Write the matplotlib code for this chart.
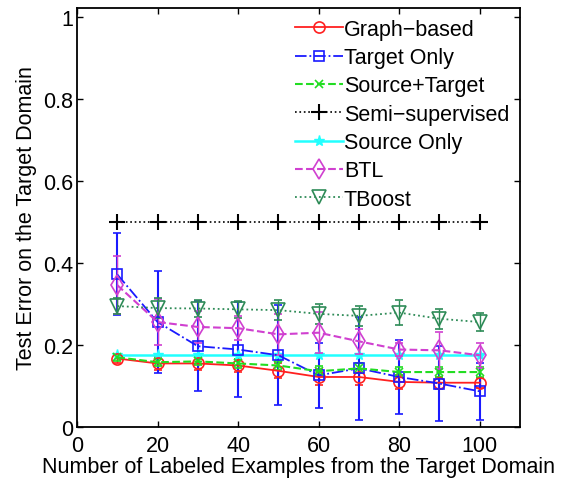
import matplotlib
matplotlib.use("Agg")
import matplotlib.pyplot as plt
from matplotlib.lines import Line2D
import numpy as np

x = [10, 20, 30, 40, 50, 60, 70, 80, 90, 100]

graph_based = [0.167, 0.155, 0.155, 0.150, 0.137, 0.122, 0.122, 0.110, 0.108, 0.108]
graph_err = [0.012, 0.015, 0.015, 0.015, 0.018, 0.02, 0.02, 0.018, 0.015, 0.012]

target_only = [0.372, 0.256, 0.197, 0.189, 0.175, 0.126, 0.143, 0.122, 0.106, 0.087]
target_err = [0.100, 0.124, 0.110, 0.117, 0.122, 0.080, 0.125, 0.090, 0.092, 0.070]

source_target = [0.170, 0.158, 0.160, 0.155, 0.150, 0.136, 0.143, 0.134, 0.134, 0.134]
source_target_err = [0.008, 0.01, 0.01, 0.01, 0.01, 0.012, 0.012, 0.012, 0.012, 0.012]

semi_supervised = [0.5, 0.5, 0.5, 0.5, 0.5, 0.5, 0.5, 0.5, 0.5, 0.5]

source_only = [0.176, 0.176, 0.176, 0.176, 0.176, 0.176, 0.176, 0.176, 0.176, 0.176]

btl = [0.346, 0.256, 0.244, 0.241, 0.226, 0.230, 0.209, 0.189, 0.187, 0.175]
btl_err = [0.07, 0.057, 0.04, 0.03, 0.05, 0.05, 0.03, 0.015, 0.045, 0.03]

tboost = [0.295, 0.290, 0.289, 0.287, 0.285, 0.276, 0.271, 0.279, 0.264, 0.256]
tboost_err = [0.02, 0.025, 0.02, 0.02, 0.025, 0.025, 0.025, 0.03, 0.025, 0.022]

labels = ["Graph\u2212based", "Target Only", "Source+Target", "Semi\u2212supervised",
          "Source Only", "BTL", "TBoost"]

xticks = [0, 20, 40, 60, 80, 100]
yticks = [0, 0.2, 0.4, 0.6, 0.8, 1]
yticklabels = ["0", "0.2", "0.4", "0.6", "0.8", "1"]

plt.rcParams['font.family'] = ['Liberation Sans', 'DejaVu Sans']

fig = plt.figure(figsize=(5.63, 4.81), dpi=100)
ax = fig.add_axes([0.1368, 0.1102, 0.7868, 0.8711])

red = '#ff2020'
blue = '#1a1aff'
green = '#22dd22'
cyan = '#22ffff'
magenta = '#d040d0'
dgreen = '#2e8b57'

styles = [
    dict(color=red, ls='-', lw=1.3, marker='o', ms=8, mfc='none', mew=1.2),
    dict(color=blue, ls='-.', lw=1.3, marker='s', ms=7.5, mfc='none', mew=1.2),
    dict(color=green, ls='--', lw=1.5, marker='x', ms=6, mew=1.2),
    dict(color='black', ls=':', lw=1.2, marker='+', ms=11, mew=1.5),
    dict(color=cyan, ls='-', lw=1.8, marker='*', ms=8, mew=1.0),
    dict(color=magenta, ls='--', lw=1.5, marker='d', ms=10, mfc='none', mew=1.2),
    dict(color=dgreen, ls=':', lw=1.3, marker='v', ms=10, mfc='none', mew=1.2),
]

ax.errorbar(x, graph_based, yerr=graph_err, capsize=3, elinewidth=1.0, **styles[0])
ax.errorbar(x, target_only, yerr=target_err, capsize=3, elinewidth=1.5, **styles[1])
ax.errorbar(x, source_target, yerr=source_target_err, capsize=3, elinewidth=1.0, **styles[2])
ax.plot(x, semi_supervised, **styles[3])
ax.plot(x, source_only, **styles[4])
ax.errorbar(x, btl, yerr=btl_err, capsize=3, elinewidth=1.0, **styles[5])
ax.errorbar(x, tboost, yerr=tboost_err, capsize=3, elinewidth=1.0, **styles[6])

handles = [Line2D([], [], **st) for st in styles]

ax.set_xlim(0, 110)
ax.set_ylim(0, 1.022)
ax.set_xticks(xticks)
ax.set_yticks(yticks)
ax.set_yticklabels(yticklabels)
ax.tick_params(direction='in', top=True, right=True, labelsize=15.5, length=4, width=1)
ax.tick_params(axis='x', pad=6)
ax.tick_params(axis='y', pad=3)
for s in ax.spines.values():
    s.set_linewidth(1.3)

ax.set_xlabel("Number of Labeled Examples from the Target Domain", fontsize=15.5, labelpad=0)
ax.set_ylabel("Test Error on the Target Domain", fontsize=15.5, labelpad=4)

leg = ax.legend(handles, labels, loc='upper right', frameon=False, fontsize=15.5,
                handlelength=2.2, handletextpad=0.05, labelspacing=0.34,
                borderaxespad=0.2, borderpad=0.3)

fig.savefig("out.png", dpi=100)
